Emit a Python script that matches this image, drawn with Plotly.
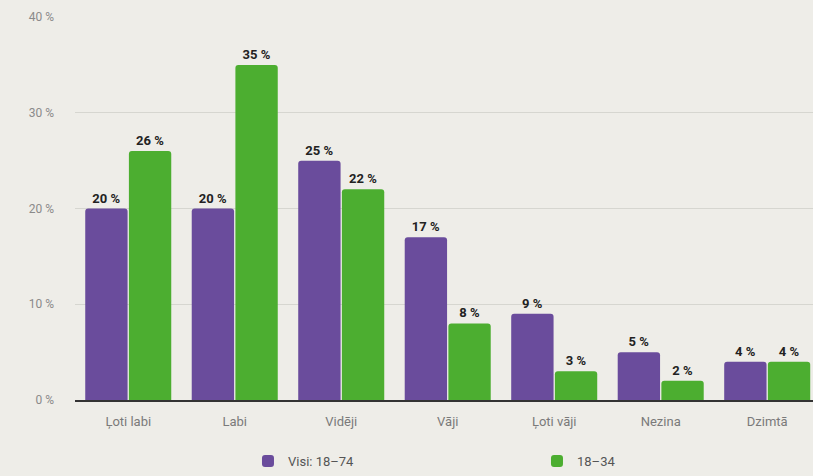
import plotly.graph_objects as go

categories = ["Ļoti labi", "Labi", "Vidēji", "Vāji", "Ļoti vāji", "Nezina", "Dzimtā"]
visi_18_74 = [20, 20, 25, 17, 9, 5, 4]
age_18_34 = [26, 35, 22, 8, 3, 2, 4]
series_names = ["Visi: 18–74", "18–34"]
y_ticks = [0, 10, 20, 30, 40]

PURPLE = "#6a4c9c"
GREEN = "#4cae30"
BG = "#eeede8"
FONT = "Roboto, DejaVu Sans, sans-serif"

fig = go.Figure()
for name, vals, color, leg in [(series_names[0], visi_18_74, PURPLE, "legend"),
                               (series_names[1], age_18_34, GREEN, "legend2")]:
    fig.add_trace(go.Bar(
        name=name,
        x=categories,
        y=vals,
        legend=leg,
        marker=dict(color=color, line=dict(width=0)),
        text=[f"{v} %" for v in vals],
        textposition="outside",
        textfont=dict(family=FONT, size=13, color="#222222", weight="bold"),
        cliponaxis=False,
    ))

legend_style = dict(
    orientation="h",
    xanchor="left",
    yref="container",
    y=-0.012, yanchor="bottom",
    font=dict(family=FONT, size=13, color="#555555"),
    bgcolor="rgba(0,0,0,0)",
)

fig.update_layout(
    width=813,
    height=476,
    margin=dict(l=75, r=0, t=17, b=76),
    paper_bgcolor=BG,
    plot_bgcolor=BG,
    barmode="group",
    bargap=0.18,
    bargroupgap=0.03,
    barcornerradius=3,
    font=dict(family=FONT, color="#7a7a7a"),
    showlegend=True,
    legend=dict(x=0.2344, **legend_style),
    legend2=dict(x=0.626, **legend_style),
    xaxis=dict(
        range=[-0.5, 6.43],
        showline=True, linecolor="#333333", linewidth=2,
        showgrid=False, ticks="", ticklabelstandoff=8,
        tickfont=dict(family=FONT, size=13, color="#7a7a7a"),
    ),
    yaxis=dict(
        range=[0, 40],
        tickvals=y_ticks,
        ticktext=[f"{t} %" for t in y_ticks],
        showgrid=True, gridcolor="#d6d6d0", gridwidth=1,
        zeroline=False,
        ticks="", ticklabelstandoff=20,
        tickfont=dict(family=FONT, size=12, color="#8a8a8a"),
    ),
)

fig.write_html("out.html")
